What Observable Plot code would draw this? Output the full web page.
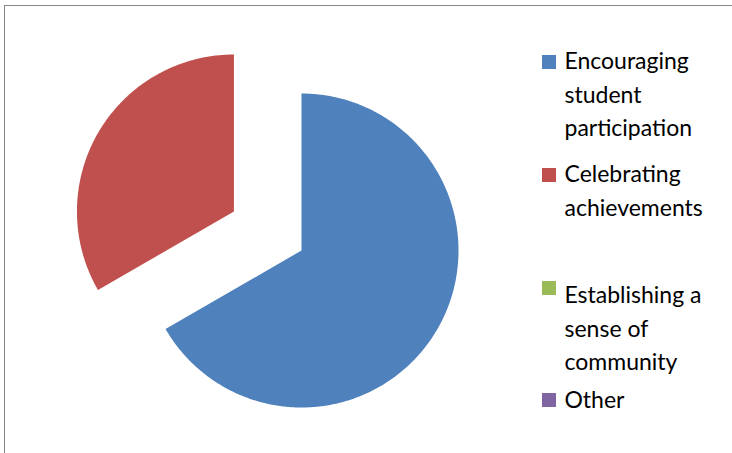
<!DOCTYPE html>
<html><head><meta charset="utf-8">
<script src="https://cdn.jsdelivr.net/npm/d3@7"></script>
<script src="https://cdn.jsdelivr.net/npm/@observablehq/plot@0.6"></script>
<style>
body{margin:0;background:#fff;}
#wrap{position:relative;width:732px;height:453px;overflow:hidden;background:#fff}
#frame{position:absolute;left:4px;top:5px;width:900px;height:700px;border-top:1px solid #868686;border-left:1px solid #868686;pointer-events:none;z-index:2}
#chart{position:absolute;left:0;top:0}
</style></head><body><div id="wrap"><div id="chart"></div><div id="frame"></div></div>
<script>
// Data
const categories = ["Encouraging student participation", "Celebrating achievements", "Establishing a sense of community", "Other"];
const values = [2, 1, 0, 0];
const colors = ["#4F81BD", "#C0504D", "#9BBB59", "#8064A2"];
const legendLabels = ["Encouraging\nstudent\nparticipation", "Celebrating\nachievements", "Establishing a\nsense of\ncommunity", "Other"];
const explode = [0, 78, 0, 0];

// Layout (pixel space)
const W = 732, H = 453;
const cx = 301, cy = 250, R = 157;
const legendX = 564, swatchX = 542, swatch = 14;
const swatchTops = [55, 168, 281, 393];
const textTops = [45, 158, 279, 384];

const arcs = d3.pie().sort(null).startAngle(0).endAngle(2 * Math.PI)(values);
const pts = [];
arcs.forEach((a, i) => {
  if (a.endAngle - a.startAngle <= 0) return;
  const mid = (a.startAngle + a.endAngle) / 2;
  const ox = cx + explode[i] * Math.sin(mid), oy = cy - explode[i] * Math.cos(mid);
  const key = categories[i];
  pts.push({key, x: ox, y: oy});
  const n = Math.max(2, Math.ceil((a.endAngle - a.startAngle) / 0.01));
  for (let k = 0; k <= n; k++) {
    const t = a.startAngle + (a.endAngle - a.startAngle) * k / n;
    pts.push({key, x: ox + R * Math.sin(t), y: oy - R * Math.cos(t)});
  }
  pts.push({key, x: ox, y: oy});
});

const legend = categories.map((c, i) => ({key: c, label: legendLabels[i], top: textTops[i], stop: swatchTops[i]}));

const chart = Plot.plot({
  width: W, height: H,
  margin: 0,
  x: {domain: [0, W], range: [0, W], axis: null},
  y: {domain: [0, H], range: [0, H], axis: null},
  color: {domain: categories, range: colors},
  style: {background: "transparent", fontFamily: "Lato, 'Open Sans', sans-serif"},
  marks: [
    Plot.line(pts, {x: "x", y: "y", z: "key", fill: "key", stroke: null, curve: "linear"}),
    Plot.rect(legend, {x1: () => swatchX, x2: () => swatchX + swatch, y1: "stop", y2: d => d.stop + swatch, fill: "key"}),
    Plot.text(legend, {x: () => legendX, y: "top", text: "label", textAnchor: "start", lineAnchor: "top", fontSize: 23, lineHeight: 1.45, fill: "#000"})
  ]
});
document.getElementById("chart").appendChild(chart);
</script>
</body></html>
